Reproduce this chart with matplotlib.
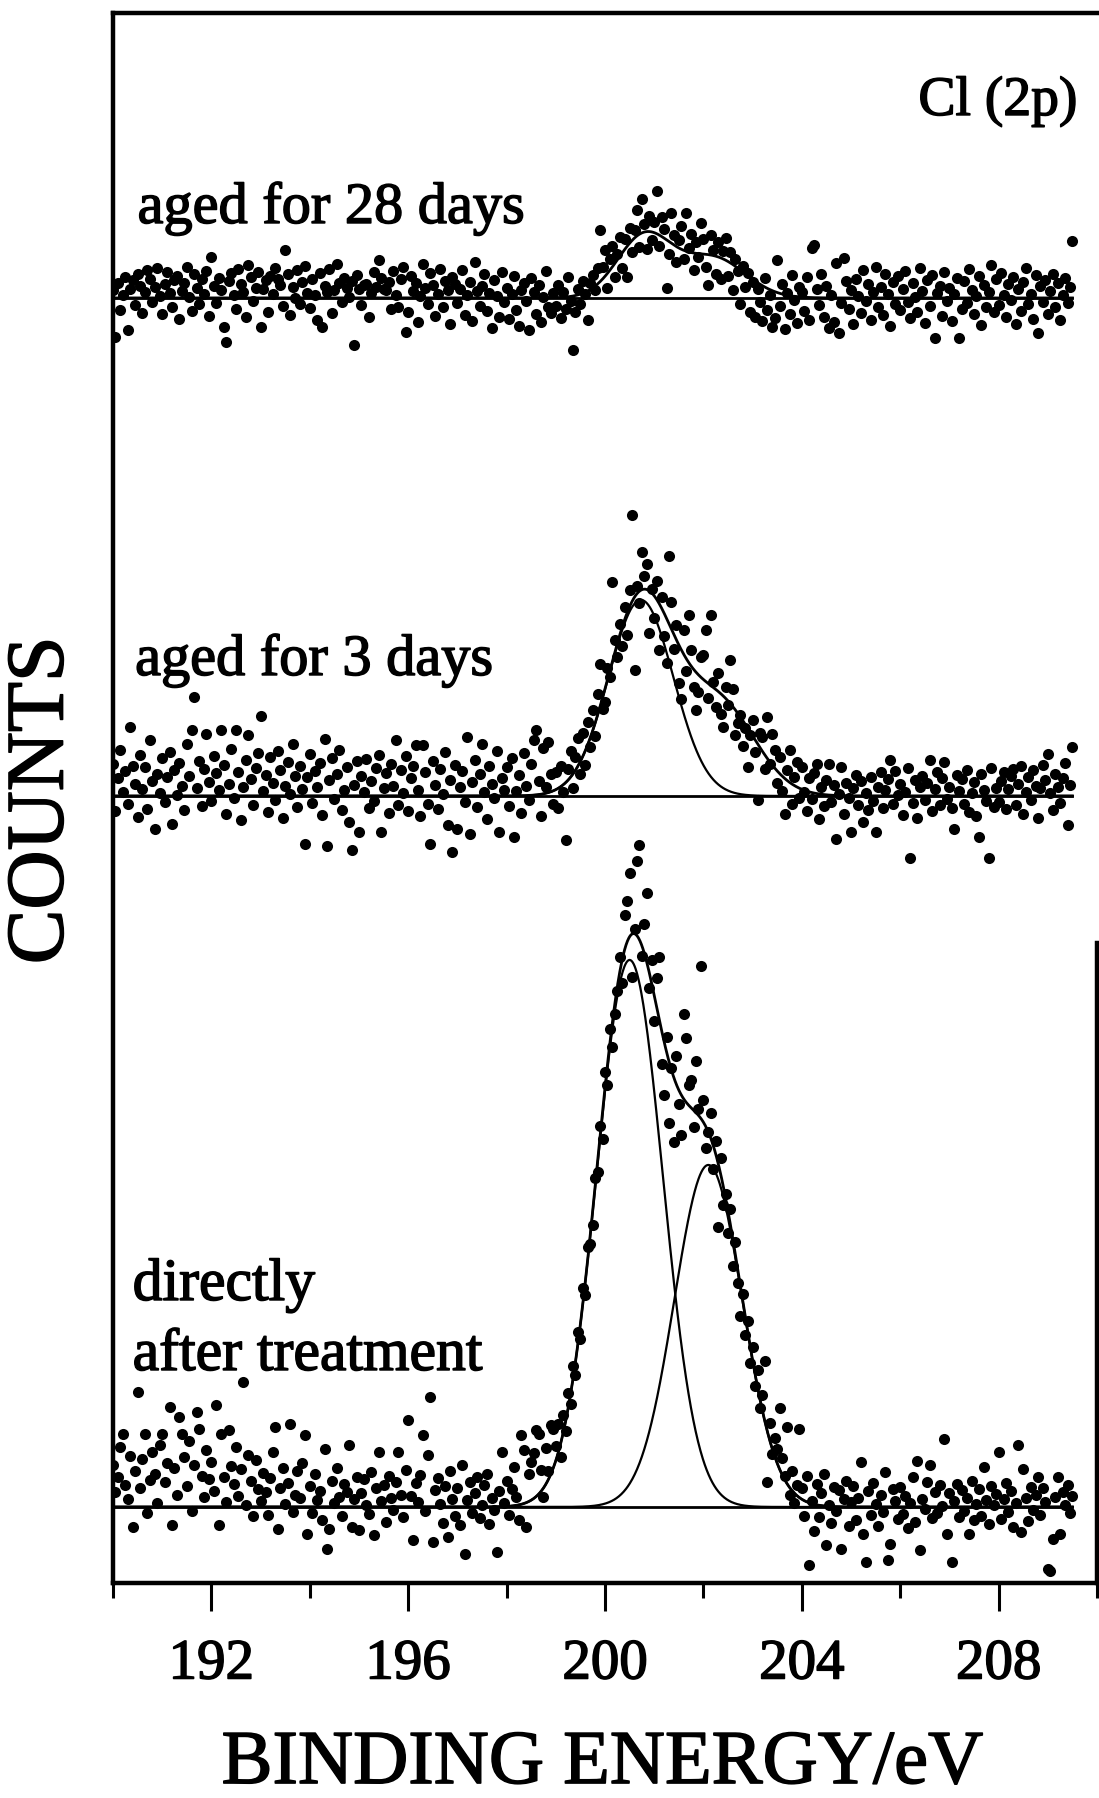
"""
Cl (2p) XPS spectra of a treated surface, directly after treatment and after ageing.
"""

import numpy as np
import matplotlib
matplotlib.use("Agg")
import matplotlib.pyplot as plt
import matplotlib.patheffects as pe
from matplotlib.ticker import FixedLocator, NullLocator

plt.rcParams['font.family'] = ['Liberation Serif', 'DejaVu Serif']

# binding energy of the first channel and channel spacing (eV)
E_START = 190.0
E_STEP = 0.05

# measured counts (arbitrary units, above each spectrum's own baseline), one row per eV
counts_28d = np.concatenate([
    [0.8, -3.9, 1.5, -1.2, 0.3, 2.1, -3.2, 0.9, 1.8, -0.7, 2.4, 1.2, -1.5, 0.6, 2.8, 1.9, -0.4, 1.1, 3.0, 0.2],
    [-1.6, 1.4, 2.6, 0.5, -0.9, 1.8, 2.2, -2.1, 0.7, 1.5, 3.1, 0.1, -1.3, 2.4, 1.0, -0.6, 1.9, 0.4, 2.7, -1.8],
    [4.1, 1.2, -0.5, 2.0, 0.8, -2.9, -4.4, 1.7, 2.5, 0.3, -1.1, 2.9, 1.4, 0.6, -1.9, 3.3, 2.1, -0.3, 1.0, 2.6],
    [-2.9, 0.9, 1.8, -1.4, 2.2, 0.4, 3.0, 1.9, 1.3, -0.8, 4.8, 2.4, -1.7, 1.1, 0.0, 2.8, -0.6, 1.6, 3.2, 0.5],
    [-1.0, 1.9, 0.3, -2.2, 2.5, -2.9, 1.2, 0.6, 2.9, -1.5, 0.8, 3.4, 1.5, -0.4, 2.0, 1.0, 0.1, 1.7, -4.7, 2.3],
    [0.9, -0.7, 1.3, 1.4, -1.9, 0.5, 2.6, 1.1, 3.8, 2.0, 0.9, 0.8, 1.6, -1.1, 2.7, 0.3, -0.9, 1.9, 3.1, -3.4],
    [-1.4, 2.2, 0.7, 1.5, -2.4, 0.2, 3.4, 1.0, -0.6, 2.5, 1.3, -1.8, 0.4, 2.9, -0.9, 1.7, 0.8, -2.6, 2.1, 1.4],
    [-0.5, 0.9, 2.8, -1.7, 0.3, 1.6, -2.3, 3.6, 0.7, -0.8, 1.2, 2.4, -1.3, 0.5, -3.0, 1.8, 0.2, -1.9, 2.6, -0.4],
    [1.0, -2.1, 0.4, 2.2, -1.2, -2.8, 0.8, 1.5, -0.3, -3.2, 2.0, 0.6, -1.6, 1.3, -2.4, 0.1, 2.7, -0.9, -1.5, 0.5],
    [-0.8, 1.3, -2.0, 0.6, -1.1, 2.1, -0.3, -5.2, -1.4, 0.9, -0.6, 1.7, 0.4, -2.2, 1.5, 2.3, 0.8, 3.0, 6.8, 3.1],
    [4.8, 1.0, 3.9, 5.2, 2.1, 4.4, 6.1, 3.0, 5.9, 2.1, 7.0, 4.6, 6.8, 8.8, 5.1, 9.9, 7.4, 4.9, 8.2, 5.8],
    [7.6, 10.7, 5.2, 8.1, 6.9, 1.0, 4.4, 8.5, 6.3, 3.6, 5.8, 7.2, 3.9, 8.5, 5.0, 6.4, 2.8, 5.6, 4.1, 7.5],
    [5.9, 3.1, 1.3, 6.3, 4.8, 2.4, 5.6, 1.9, 4.7, 6.0, 2.2, 4.6, 0.8, 3.9, 2.7, -0.6, 3.2, 1.1, 2.5, -1.4],
    [1.6, -1.9, 0.9, -0.4, -2.3, 2.0, -1.2, 0.3, -2.9, -2.0, 3.8, -0.8, 1.4, -3.1, 0.5, -1.6, 2.3, -0.2, -2.5, 1.1],
    [0.6, -1.3, 2.1, -2.2, 5.0, 5.3, 0.9, -0.7, 2.4, -1.9, 1.2, -3.0, 0.3, -2.4, 3.5, -3.5, -0.5, 4.0, 1.7, -1.1],
    [0.8, -2.6, 1.9, 0.2, -1.5, 2.8, -0.3, 1.4, -2.2, 0.6, 3.1, -0.9, 1.1, -1.7, 2.4, 0.4, -2.8, 1.6, -0.6, 2.2],
    [-1.2, 0.9, 2.7, -0.4, -2.0, 1.5, 0.1, -1.4, 3.0, 0.7, -2.5, 1.8, -0.8, 2.3, -4.0, 0.5, 1.2, -1.8, 2.6, -0.3],
    [1.0, -2.3, 0.4, 2.0, -4.0, -1.1, 1.7, -0.5, 2.9, 0.8, -1.6, 0.2, 2.2, -2.7, 1.3, -0.9, 0.6, 3.3, -1.4, 1.9],
    [-0.7, 2.5, 0.3, -1.9, 1.4, -0.2, 2.1, -2.6, 0.9, -1.3, 1.6, 3.0, -0.6, 0.4, -2.1, 2.3, -3.5, 1.2, -0.4, 1.8],
    [-1.6, 0.7, 2.4, -0.9, 1.5, -2.2, 0.3, 2.0, -0.5, 1.1, 5.7],
])

counts_3d = np.concatenate([
    [3.2, -1.5, 1.8, 4.6, 0.4, 2.5, -0.8, 6.9, 3.0, 1.2, -2.1, 4.1, 0.7, 2.9, -1.3, 5.6, 1.5, -3.3, 2.2, 0.3],
    [3.8, -0.6, 1.9, 4.4, -2.8, 2.6, 0.1, 3.3, 1.0, -1.4, 5.2, 2.0, 6.6, 9.9, 0.8, 3.5, -1.0, 2.7, 6.2, 1.4],
    [-0.5, 4.0, 2.3, 0.6, 6.6, 3.1, -1.8, 1.2, 4.7, -0.2, 6.6, 2.4, -2.4, 0.9, 3.6, 6.1, 1.7, -0.9, 2.8, 4.3],
    [8.0, 0.5, 2.1, -1.6, 3.9, 1.3, -0.4, 4.5, 2.6, -2.2, 1.0, 3.4, 0.2, 5.2, 2.0, -1.1, 3.0, 0.7, -4.8, 1.9],
    [4.2, -0.7, 2.5, 0.9, 3.3, -1.9, 5.7, -5.0, 1.6, 3.8, -0.3, 2.2, 4.6, -1.4, 0.6, 2.9, -2.6, -5.4, 1.1, 3.5],
    [-3.6, 2.0, 0.4, 3.7, -1.2, 1.5, -0.5, 2.8, 4.1, -3.6, 0.8, 2.3, -1.7, 3.2, 1.0, 5.6, -0.9, 2.6, 0.3, 4.0],
    [-1.5, 1.8, 3.0, 5.1, 0.6, -2.0, 5.1, 2.4, -0.8, -4.8, 3.5, 1.1, -1.3, 2.7, 0.2, 4.4, -2.9, 1.6, -5.6, 3.1],
    [-3.3, 0.9, 2.5, -0.6, 5.9, -3.8, 1.4, 3.6, -1.1, 2.2, 5.2, 0.4, -2.3, 3.0, 1.2, -0.2, 4.5, -3.6, 1.8, 0.6],
    [2.9, -1.0, 3.8, -4.1, 0.5, 2.1, -1.7, 4.3, 1.0, -0.4, 3.2, 5.6, 6.6, 1.5, -2.0, 4.8, 0.9, 5.4, 2.2, -0.8],
    [2.4, -1.2, 3.0, 0.4, -4.4, 2.7, 4.5, 0.8, 3.9, 5.8, 2.2, 6.3, 3.1, 7.4, 4.9, 8.6, 6.0, 10.2, 13.2, 8.7],
    [9.4, 12.8, 11.9, 21.4, 15.6, 13.9, 17.2, 15.0, 18.9, 16.1, 20.6, 28.1, 12.6, 21.0, 19.3, 24.4, 22.0, 23.2, 16.3, 20.7],
    [17.8, 21.5, 14.6, 19.9, 16.0, 13.3, 24.0, 19.4, 14.7, 17.1, 11.3, 9.7, 16.6, 12.5, 18.1, 14.6, 10.9, 8.6, 10.4, 13.9],
    [14.1, 16.6, 9.8, 18.1, 11.4, 8.9, 12.3, 8.2, 6.9, 10.9, 9.1, 13.6, 10.7, 6.1, 7.3, 8.1, 5.0, 6.8, 2.9, 6.1],
    [7.6, 4.4, -0.4, 6.3, 5.9, 2.7, 7.9, 3.2, 6.2, 4.6, 1.3, 3.9, 0.5, -1.8, 2.6, 4.6, -0.8, 1.9, 3.4, -0.2],
    [2.9, 0.4, -1.5, 1.8, -0.3, 2.3, 3.2, -2.3, 0.9, -1.0, 1.6, 3.2, -0.6, 1.1, -4.3, 0.2, 2.9, -1.8, 1.3, -0.2],
    [-3.6, 0.8, 2.1, -0.9, 1.5, -2.6, 0.3, -1.4, 1.9, -0.5, -3.6, 0.9, 2.4, -1.2, 0.6, 1.7, 3.6, -0.8, 2.5, 0.1],
    [1.2, -1.9, 0.4, 2.8, -6.2, -0.7, 1.6, -2.2, 0.9, 2.0, -0.4, 1.3, 3.6, -1.5, 0.7, 2.4, -0.9, 1.8, 3.4, -0.3],
    [0.9, -1.2, -3.3, 2.1, 0.5, 1.7, -0.8, 2.6, -1.6, 0.3, 1.4, -2.0, -4.1, 2.2, 0.6, -0.5, -6.2, 2.8, -1.1, 0.8],
    [-0.6, 1.5, 2.4, -1.3, 0.7, 2.0, 2.7, -0.9, 1.2, 3.0, -1.8, 0.4, 1.9, -0.4, 2.6, 1.0, -2.2, 0.8, 3.1, 1.6],
    [4.2, 0.3, -1.4, 2.2, 0.9, -0.7, 1.8, 3.3, -2.9, 1.1, 4.9],
])

counts_fresh = np.concatenate([
    [4.2, 1.5, 3.0, 6.0, 7.3, 2.2, 0.8, 5.1, -2.0, 3.6, 11.5, 1.9, 4.8, 7.3, -0.6, 2.7, 5.5, 3.3, 0.4, 6.2],
    [7.3, 2.5, 4.4, 10.0, -1.8, 3.9, 1.2, 9.0, 7.3, 5.0, 2.1, 6.6, -0.4, 4.2, 9.5, 7.8, 3.1, 1.0, 5.7, 2.8],
    [4.5, 1.6, 10.2, -1.8, 7.3, 3.0, 0.5, 7.7, 4.1, 2.3, 6.0, 1.1, 3.8, 12.5, 0.2, 5.2, 2.6, -0.9, 4.7, 1.8],
    [0.6, 3.4, 1.5, -0.8, 2.9, 5.5, 8.0, -2.2, 1.9, 3.9, 0.3, 2.4, 8.3, -0.5, 1.2, 3.6, 0.9, 4.4, 7.2, -2.7],
    [2.1, -0.6, 3.3, 0.7, 1.6, -1.3, 5.8, -4.2, -2.2, 2.6, 0.4, 3.9, 1.0, -0.9, 2.3, 1.5, 6.2, -2.0, 0.8, 3.0],
    [-2.3, 1.4, 2.8, 0.2, -0.7, 3.5, -2.8, 1.9, 5.5, 0.6, 2.2, -1.5, 3.1, 0.9, -0.3, 2.5, 5.5, 1.2, -1.0, 3.7],
    [8.7, 1.1, -3.3, 2.4, 0.5, 3.2, 7.2, -0.4, 5.2, 11.0, -3.5, 1.7, 2.9, 0.3, -1.6, 2.1, -3.0, 3.6, 0.8, -0.9],
    [1.9, -1.8, 4.2, -4.7, 0.7, 2.5, -0.6, 1.4, 3.0, -1.1, 0.2, 2.2, 3.3, -1.7, 0.9, -0.3, -4.5, 1.6, 5.5, 0.4],
    [2.6, -0.8, 1.8, 4.0, 1.0, -1.3, 7.2, 5.7, -2.0, 3.3, 4.5, 5.4, 7.7, 7.3, 3.7, 1.0, 5.9, 3.6, 8.2, 7.8],
    [6.1, 8.3, 5.0, 9.2, 7.6, 11.4, 10.3, 14.1, 13.2, 17.5, 16.8, 21.9, 21.2, 26.0, 26.3, 28.2, 32.9, 33.5, 38.1, 36.8],
    [43.5, 42.2, 47.8, 46.0, 49.3, 51.6, 55.0, 52.4, 59.2, 60.6, 63.4, 53.0, 57.8, 64.6, 66.2, 55.1, 58.3, 61.4, 51.9, 54.7],
    [48.6, 52.9, 55.0, 44.3, 41.2, 47.0, 38.4, 43.9, 36.5, 45.1, 40.3, 37.2, 49.3, 46.9, 42.2, 42.7, 38.0, 44.6, 39.8, 54.1],
    [40.7, 35.9, 37.5, 39.4, 33.8, 36.6, 28.0, 34.9, 30.2, 31.3, 27.4, 29.8, 24.1, 26.5, 22.4, 19.1, 21.3, 17.2, 18.6, 14.4],
    [16.0, 12.1, 13.7, 9.9, 11.2, 14.6, 2.5, 8.4, 5.3, 6.9, 5.8, 9.9, 4.9, 3.1, 8.0, 1.2, 3.6, 0.4, 2.2, 7.8],
    [1.9, -0.9, 3.1, -5.8, 0.6, -2.4, 2.3, -1.0, 1.4, 3.3, -3.8, 0.2, -1.6, 2.0, -0.4, 1.7, -4.2, 0.8, 2.6, -1.9],
    [0.5, 2.1, -1.3, 0.9, 4.5, -2.7, -5.5, 1.6, -0.8, 2.4, 0.3, -1.9, 1.2, -0.5, 3.5, -5.3, -3.7, 1.8, 0.6, -1.2],
    [2.0, -0.7, 1.1, -2.1, 0.4, 3.0, -1.5, 4.6, -4.3, 0.8, -0.2, 2.5, 4.2, -1.1, 1.5, -0.6, 2.2, 0.1, 6.8, -2.7],
    [1.4, -5.5, 0.6, 2.3, -1.0, 1.7, -0.4, 0.9, -2.7, 2.6, -1.3, 0.3, 1.8, -0.9, 4.0, 0.7, -1.7, 2.1, 0.2, 1.3],
    [5.5, -1.2, 0.8, 2.4, -0.5, 1.6, -2.0, 0.4, 6.2, -2.5, 3.8, 0.9, -1.4, 2.0, -0.3, 1.2, 3.0, -0.8, 1.9, 0.5],
    [-6.2, -6.4, -3.2, 1.0, 3.0, -2.7, 1.5, 0.2, 2.2, -0.6, 1.1],
])

# fitted Gaussian components: (centre / eV, height, sigma / eV)
fit_28d = [(200.8, 6.2, 0.55), (202.2, 4.0, 0.65)]
fit_3d = [(200.73, 19.6, 0.66), (202.3, 9.3, 0.74)]
fit_fresh = [(200.5, 54.7, 0.675), (202.1, 34.2, 0.69)]

# vertical offsets of the stacked spectra
offset_28d = 128.5
offset_3d = 78.7
offset_fresh = 7.6

xticks_major = [192, 196, 200, 204, 208]
xticks_minor = [190, 194, 198, 202, 206, 210]

# heavier strokes, like the printed original
INK = [pe.withStroke(linewidth=1.1, foreground='black')]


def plot_spectrum(ax, counts, fit, offset, n_components):
    """Data points, fitted envelope, baseline and the first n single components."""
    energy = E_START + E_STEP * np.arange(len(counts))
    e_fine = np.linspace(energy[0], energy[-1], 2000)
    comps = [h * np.exp(-(e_fine - c) ** 2 / (2 * s ** 2)) for c, h, s in fit]

    ax.plot([energy[0], energy[-1]], [offset, offset], color='black', lw=2.0, zorder=2)
    ax.plot(e_fine, offset + sum(comps), color='black', lw=2.0, zorder=2)
    for comp in comps[:n_components]:
        ax.plot(e_fine, offset + comp, color='black', lw=1.6, zorder=2)
    ax.plot(energy, offset + counts, 'o', color='black', ms=8, mew=0, zorder=3)


fig = plt.figure(figsize=(10.99, 17.98), dpi=100)
ax = fig.add_axes([0.1028, 0.1196, 0.8954, 0.8732])

plot_spectrum(ax, counts_28d, fit_28d, offset_28d, 0)
plot_spectrum(ax, counts_3d, fit_3d, offset_3d, 1)
plot_spectrum(ax, counts_fresh, fit_fresh, offset_fresh, 2)

ax.set_xlim(190, 210)
ax.set_ylim(0, 157)
ax.xaxis.set_major_locator(FixedLocator(xticks_major))
ax.xaxis.set_minor_locator(FixedLocator(xticks_minor))
ax.yaxis.set_major_locator(NullLocator())
ax.yaxis.set_minor_locator(NullLocator())
ax.tick_params(axis='x', which='major', direction='out', length=20, width=2.2,
               labelsize=41, pad=20, top=False)
ax.tick_params(axis='x', which='minor', direction='out', length=11, width=2.2, top=False)
for spine in ax.spines.values():
    spine.set_linewidth(3.2)
# the right frame line is only visible along the lower part in the original
ax.spines['right'].set_bounds(0, 64)
for lbl in ax.get_xticklabels():
    lbl.set_path_effects(INK)

# annotations
ax.text(209.6, 146.8, "Cl (2p)", fontsize=40, ha='right', va='baseline', path_effects=INK)
ax.text(190.5, 136.0, "aged for 28 days", fontsize=42, ha='left', va='baseline', path_effects=INK)
ax.text(190.45, 90.8, "aged for 3 days", fontsize=42, ha='left', va='baseline', path_effects=INK)
ax.text(190.4, 28.3, "directly", fontsize=43, ha='left', va='baseline', path_effects=INK)
ax.text(190.4, 21.3, "after treatment", fontsize=43, ha='left', va='baseline', path_effects=INK)

fig.text(0.548, 0.0083, "BINDING ENERGY/eV", fontsize=55, ha='center', va='baseline',
         path_effects=INK)
fig.text(0.039, 0.555, "COUNTS", fontsize=59, rotation=90, ha='center', va='center',
         path_effects=INK)

fig.savefig("out.png", dpi=100)
